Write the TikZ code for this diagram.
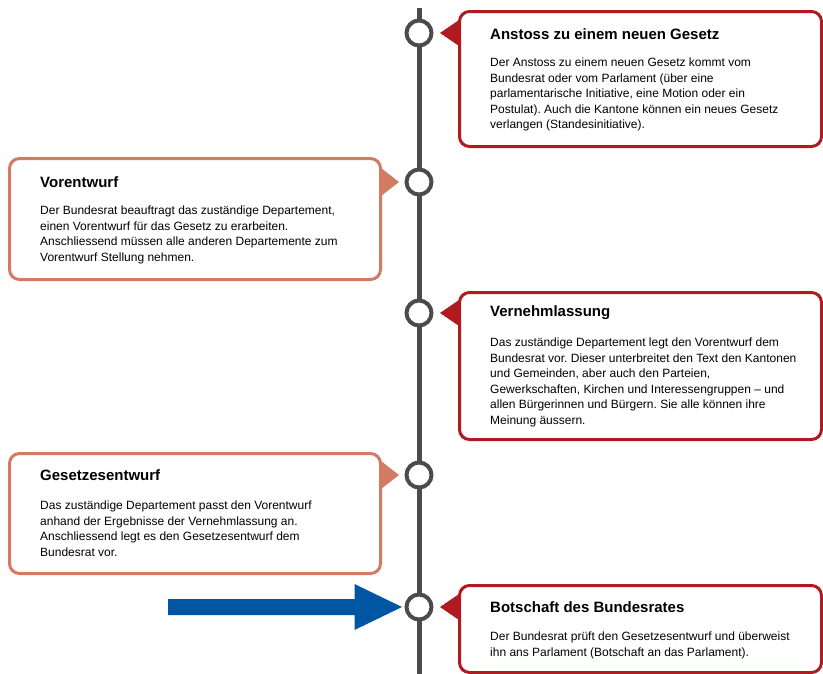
\documentclass[tikz,border=0pt]{standalone}
\usepackage{fontspec}
\setmainfont{Liberation Sans}
\usetikzlibrary{calc}
\frenchspacing
\definecolor{linegray}{HTML}{4B4B4B}
\definecolor{redb}{HTML}{B01B21}
\definecolor{salmon}{HTML}{D27A62}
\definecolor{blueA}{HTML}{0056A2}
\begin{document}
\begin{tikzpicture}[x=1pt,y=-1pt,
  station/.style={circle,draw=linegray,line width=4pt,fill=white,minimum size=25pt,inner sep=0pt},
  boxR/.style={draw=redb,line width=3pt,rounded corners=10pt,fill=white,anchor=north west,inner sep=0pt},
  boxL/.style={draw=salmon,line width=3pt,rounded corners=10pt,fill=white,anchor=north west,inner sep=0pt},
  ttl/.style={anchor=west,inner sep=0pt,font=\fontsize{15}{18}\selectfont\bfseries},
  body/.style={anchor=north west,inner sep=0pt,align=left,font=\fontsize{12}{15.5}\selectfont}]
\useasboundingbox (0,0) rectangle (823,673);
% timeline
\coordinate (top) at (419,8);
\coordinate (bot) at (419,680);
\draw[linegray,line width=5pt] (top) -- (bot);
% boxes
\node[boxR,minimum width=362pt,minimum height=135pt] (b1) at (458,10) {};
\node[boxL,minimum width=371pt,minimum height=121pt] (b2) at (8,157) {};
\node[boxR,minimum width=362pt,minimum height=147pt] (b3) at (458,291) {};
\node[boxL,minimum width=371pt,minimum height=120pt] (b4) at (8,452) {};
\node[boxR,minimum width=362pt,minimum height=87pt] (b5) at (458,584) {};
% stations
\node[station] (c1) at (419,33) {};
\node[station] (c2) at (419,182) {};
\node[station] (c3) at (419,313) {};
\node[station] (c4) at (419,475) {};
\node[station] (c5) at (419,607) {};
% pointers
\foreach \b/\c in {b1/c1,b3/c3,b5/c5}{
  \fill[redb] ($(\b.west |- \c)+(1,-13)$) -- ($(\c.east)+(6.5,0)$) -- ($(\b.west |- \c)+(1,13)$) -- cycle;
}
\foreach \b/\c in {b2/c2,b4/c4}{
  \fill[salmon] ($(\b.east |- \c)+(-1,-14)$) -- ($(\c.west)+(-5.5,0)$) -- ($(\b.east |- \c)+(-1,14)$) -- cycle;
}
% blue arrow
\coordinate (astart) at (168,607);
\fill[blueA] ($(astart)+(0,-8)$) -- ($(c5.west)+(-50,-8)$) -- ($(c5.west)+(-50,-23)$) -- ($(c5.west)+(-2.5,0)$)
  -- ($(c5.west)+(-50,23)$) -- ($(c5.west)+(-50,8)$) -- ($(astart)+(0,8)$) -- cycle;
% texts
\node[ttl] (t1) at (490,34) {Anstoss zu einem neuen Gesetz};
\node[body] (d1) at (490,58) {Der Anstoss zu einem neuen Gesetz kommt vom\\Bundesrat oder vom Parlament (über eine\\parlamentarische Initiative, eine Motion oder ein\\Postulat). Auch die Kantone können ein neues Gesetz\\verlangen (Standesinitiative).};
\node[ttl] (t2) at (40,182) {Vorentwurf};
\node[body] (d2) at (40,206) {Der Bundesrat beauftragt das zuständige Departement,\\einen Vorentwurf für das Gesetz zu erarbeiten.\\Anschliessend müssen alle anderen Departemente zum\\Vorentwurf Stellung nehmen.};
\node[ttl] (t3) at (490,313) {Vernehmlassung};
\node[body] (d3) at (490,338) {Das zuständige Departement legt den Vorentwurf dem\\Bundesrat vor. Dieser unterbreitet den Text den Kantonen\\und Gemeinden, aber auch den Parteien,\\Gewerkschaften, Kirchen und Interessengruppen – und\\allen Bürgerinnen und Bürgern. Sie alle können ihre\\Meinung äussern.};
\node[ttl] (t4) at (40,475) {Gesetzesentwurf};
\node[body] (d4) at (40,501) {Das zuständige Departement passt den Vorentwurf\\anhand der Ergebnisse der Vernehmlassung an.\\Anschliessend legt es den Gesetzesentwurf dem\\Bundesrat vor.};
\node[ttl] (t5) at (490,607) {Botschaft des Bundesrates};
\node[body] (d5) at (490,632) {Der Bundesrat prüft den Gesetzesentwurf und überweist\\ihn ans Parlament (Botschaft an das Parlament).};
\end{tikzpicture}
\end{document}
